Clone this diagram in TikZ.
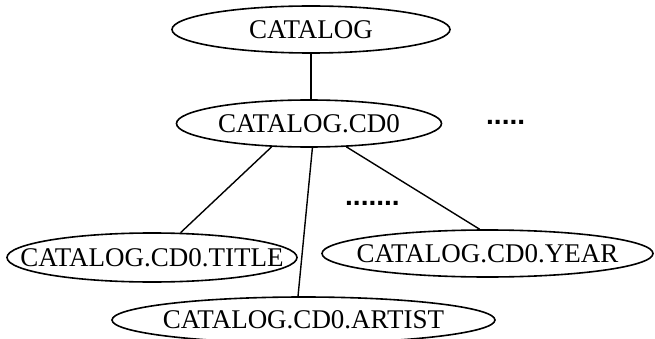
\documentclass[tikz,border=0pt]{standalone}
\usepackage{fontspec}
\setmainfont{Liberation Serif}
\newfontfamily\dotfont{Liberation Sans}
\usetikzlibrary{shapes.geometric}
\begin{document}
\begin{tikzpicture}[x=1pt,y=-1pt,
  ell/.style={ellipse,draw,line width=1.6pt,inner sep=0pt},
  txt/.style={font=\fontsize{27}{30}\selectfont,inner sep=0pt},
  dots/.style={font=\dotfont\bfseries\fontsize{28}{30}\selectfont,inner sep=0pt,anchor=base west},
  conn/.style={line width=1.4pt}]
\useasboundingbox (0,0) rectangle (655,339);
% ellipses
\node[ell,minimum width=278pt,minimum height=47pt] (catalog) at (311,29.5) {};
\node[ell,minimum width=265pt,minimum height=47pt] (cd0) at (309,123.5) {};
\node[ell,minimum width=290pt,minimum height=49pt] (title) at (152,257.5) {};
\node[ell,minimum width=331pt,minimum height=47pt] (year) at (487.5,253.5) {};
\node[ell,minimum width=383pt,minimum height=46pt] (artist) at (303.5,320) {};
% texts
\node[txt] (catalogT) at (catalog.center) {CATALOG};
\node[txt] (cd0T) at (cd0.center) {CATALOG.CD0};
\node[txt] (titleT) at (title.center) {CATALOG.CD0.TITLE};
\node[txt] (yearT) at (year.center) {CATALOG.CD0.YEAR};
\node[txt] (artistT) at (artist.center) {CATALOG.CD0.ARTIST};
% dots
\node[dots] (dotsA) at (486,125) {.....};
\node[dots] (dotsB) at (345,205.5) {.......};
% connectors
\draw[conn] (catalog.south) -- (catalog.south |- cd0.north);
\draw[conn] (cd0.212) -- (title.41);
\draw[conn] (cd0.278) -- (artist.103);
\draw[conn] (cd0.328) -- (year.108);
\end{tikzpicture}
\end{document}
